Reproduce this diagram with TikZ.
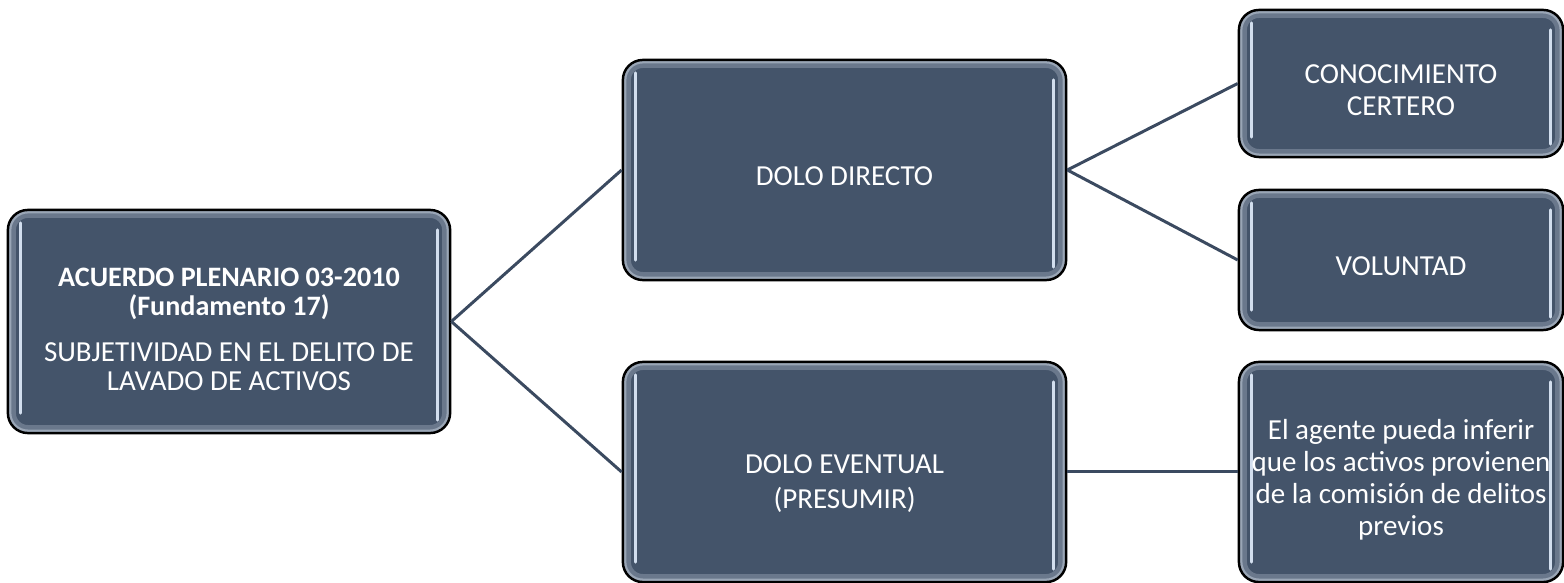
\documentclass[tikz,border=0pt]{standalone}
\usepackage{fontspec}
\setmainfont{Carlito}
\definecolor{boxfill}{HTML}{44546A}
\definecolor{edgeA}{HTML}{6A788C}
\definecolor{edgeB}{HTML}{9AA6B6}
\definecolor{hlcol}{HTML}{D2DEEE}
\definecolor{linkcol}{HTML}{3B4A60}
\newcommand\topgap[1]{\rule{0pt}{#1}}
\tikzset{
  card/.style={draw=black, line width=0.7pt, fill=boxfill, rounded corners=0.2cm,
    text=white, align=center, inner sep=2pt,
    font=\fontsize{8.25}{9.3}\selectfont,
    path picture={
      \draw[edgeA, line width=0.16cm, rounded corners=0.2cm]
        (path picture bounding box.south west) rectangle (path picture bounding box.north east);
      \draw[edgeB, line width=0.07cm, rounded corners=0.2cm]
        (path picture bounding box.south west) rectangle (path picture bounding box.north east);
      \draw[hlcol, line width=0.03cm, line cap=round]
        ([xshift=0.13cm,yshift=-0.13cm]path picture bounding box.north west) --
        ([xshift=0.13cm,yshift=0.2cm]path picture bounding box.south west);
      \draw[hlcol, line width=0.03cm, line cap=round]
        ([xshift=-0.13cm,yshift=-0.2cm]path picture bounding box.north east) --
        ([xshift=-0.13cm,yshift=0.13cm]path picture bounding box.south east);
    }},
  link/.style={draw=linkcol, line width=0.85pt}
}
\begin{document}
\begin{tikzpicture}[x=0.01cm, y=-0.01cm]
\useasboundingbox (0,0) rectangle (1564,583);
\node[card, minimum width=4.42cm, minimum height=2.23cm,
      font=\fontsize{8.25}{8.1}\selectfont] (root) at (229,321.5)
  {\topgap{9.7pt}{\fontsize{8}{8.1}\selectfont\bfseries ACUERDO PLENARIO 03-2010}\\
   {\fontsize{8}{8.1}\selectfont\bfseries (Fundamento 17)}\\[5.2pt]
   SUBJETIVIDAD EN EL DELITO DE\\
   LAVADO DE ACTIVOS};
\node[card, minimum width=4.43cm, minimum height=2.2cm] (dd) at (844.5,170)
  {\topgap{8.8pt}DOLO DIRECTO};
\node[card, minimum width=4.43cm, minimum height=2.2cm,
      font=\fontsize{8.25}{10}\selectfont] (de) at (844.5,472)
  {\topgap{11.9pt}DOLO EVENTUAL\\(PRESUMIR)};
\node[card, minimum width=3.24cm, minimum height=1.47cm] (cc) at (1401,83.5)
  {\topgap{9.1pt}CONOCIMIENTO\\CERTERO};
\node[card, minimum width=3.24cm, minimum height=1.4cm] (vo) at (1401,260)
  {\topgap{8.8pt}VOLUNTAD};
\node[card, minimum width=3.24cm, minimum height=2.2cm,
      font=\fontsize{8.25}{9.1}\selectfont] (ag) at (1401,472)
  {\topgap{10.2pt}El agente pueda inferir\\que los activos provienen\\de la comisión de delitos\\previos};
\draw[link] (root.east) -- (dd.west);
\draw[link] (root.east) -- (de.west);
\draw[link] (dd.east) -- (cc.west);
\draw[link] (dd.east) -- (vo.west);
\draw[link] (de.east) -- (ag.west);
\end{tikzpicture}
\end{document}
